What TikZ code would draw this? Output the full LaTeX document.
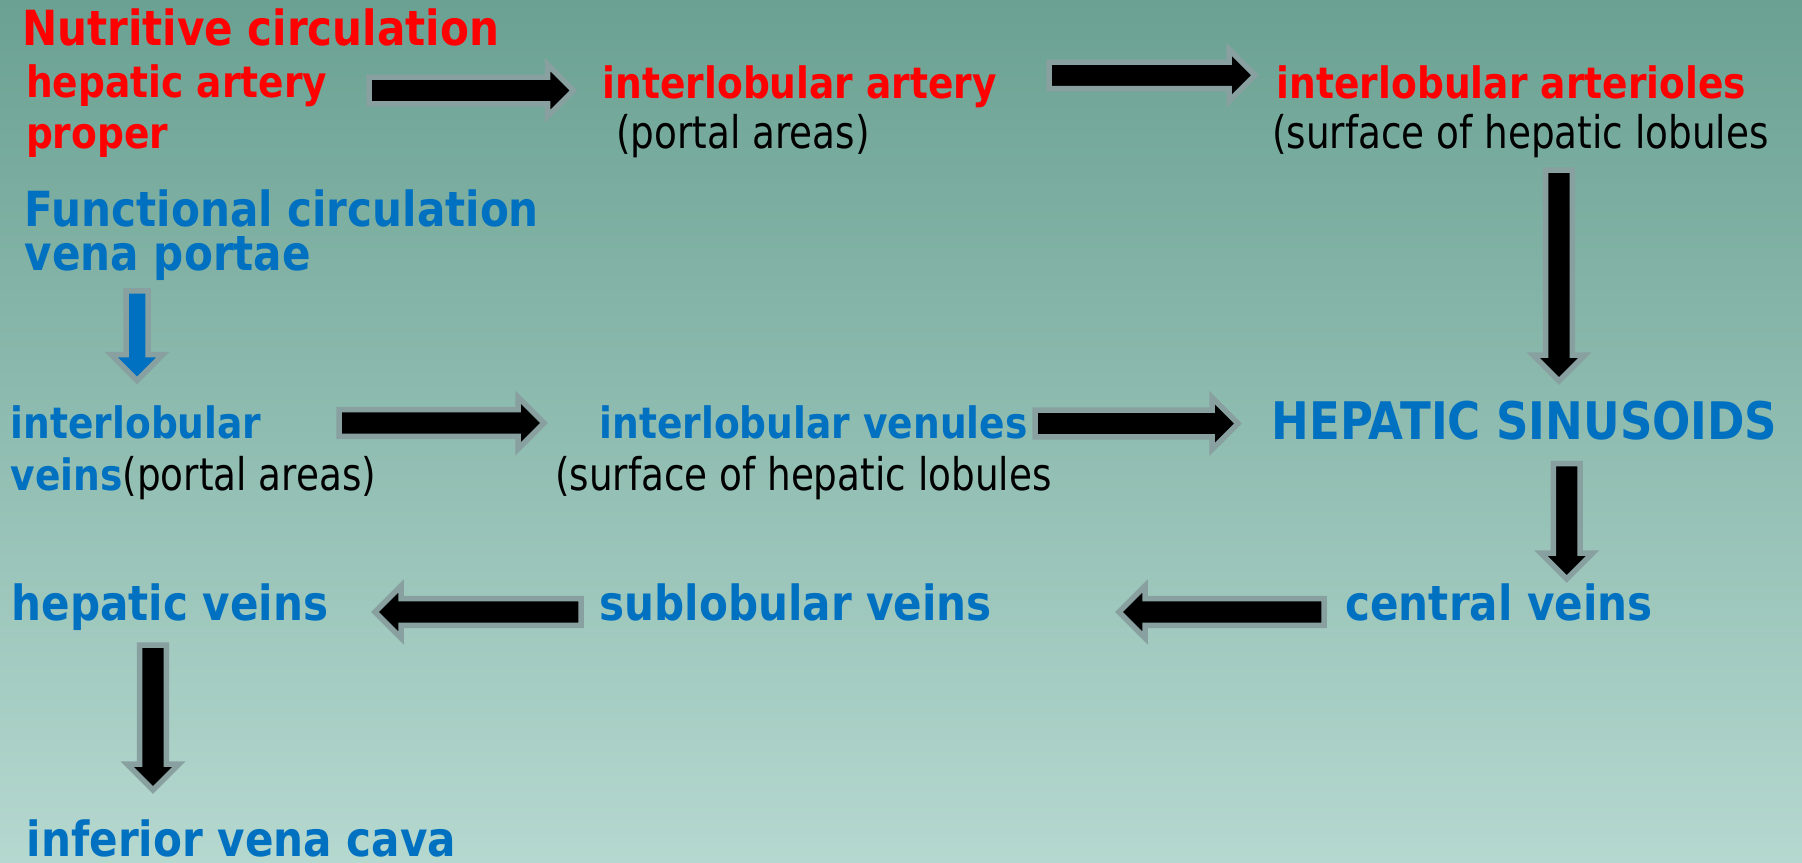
\documentclass[tikz,border=0pt]{standalone}
\usepackage{fontspec}
\newfontfamily\bfam{DejaVu Sans}[FakeStretch=0.87]
\newfontfamily\rfam{DejaVu Sans}[FakeStretch=0.83]
\definecolor{bgtop}{RGB}{106,161,146}
\definecolor{bgbot}{RGB}{181,216,207}
\definecolor{tred}{RGB}{255,0,0}
\definecolor{tblue}{RGB}{0,112,192}
\definecolor{rim}{RGB}{136,160,160}
\tikzset{
  lbl/.style={anchor=base west, inner sep=0pt, outer sep=0pt},
  smallred/.style={lbl, text=tred, font=\bfam\bfseries\fontsize{21.6}{25.3}\selectfont},
  bigred/.style={lbl, text=tred, font=\bfam\bfseries\fontsize{24.2}{25.3}\selectfont},
  smallblue/.style={lbl, text=tblue, font=\bfam\bfseries\fontsize{21.6}{25.3}\selectfont},
  bigblue/.style={lbl, text=tblue, font=\bfam\bfseries\fontsize{24.2}{25.3}\selectfont},
  note/.style={lbl, text=black, font=\rfam\fontsize{22.5}{25.3}\selectfont},
  blockarrow/.style={draw=rim, line width=2.75pt, line join=miter, miter limit=10},
}
\newcommand\blockarrow[4][black]{%
  \pgfpointanchor{#2}{center}\pgfgetlastxy\ax\ay
  \pgfpointanchor{#3}{center}\pgfgetlastxy\bx\by
  \pgfmathsetmacro\bangle{atan2(\by-\ay,\bx-\ax)}%
  \pgfmathsetmacro\blen{veclen(\bx-\ax,\by-\ay)}%
  \begin{scope}[shift={(#2)}, rotate=\bangle]
    \filldraw[blockarrow, fill=#1]
      (0pt,-#4) -- ({\blen pt-13pt},-#4) -- ({\blen pt-13pt},-13pt)
      -- (\blen pt,0pt) -- ({\blen pt-13pt},13pt) -- ({\blen pt-13pt},#4)
      -- (0pt,#4) -- cycle;
  \end{scope}
}
\begin{document}
\begin{tikzpicture}[x=0.5pt,y=-0.5pt]
\useasboundingbox (0,0) rectangle (1802,862);
\shade[top color=bgtop, bottom color=bgbot] (0,0) rectangle (1802,862);

% texts
\node[bigred]   (nut)  at (22,45.7)    {Nutritive circulation};
\node[smallred] (hap)  at (26,97.7)    {hepatic artery};
\node[smallred] (hap2) at (26,148.3)   {proper};
\node[smallred] (ila)  at (602.7,98.3) {interlobular artery};
\node[note]     (ilan) at (616,148.3)  {(portal areas)};
\node[smallred] (ilas) at (1276.8,98.3) {interlobular arterioles};
\node[note]     (ilasn) at (1272,148.3) {(surface of hepatic lobules};
\node[bigblue]  (fc)   at (24.9,226.7) {Functional circulation};
\node[bigblue]  (vp)   at (24.9,270.7) {vena portae};
\node[smallblue] (ilv) at (10.7,438.3) {interlobular};
\node[lbl]      (ilvn) at (10.7,490)   {{\bfam\bfseries\fontsize{21.6}{25.3}\selectfont\color{tblue}veins}{\rfam\fontsize{22.5}{25.3}\selectfont(portal areas)}};
\node[smallblue] (ilvu) at (599.5,438.3) {interlobular venules};
\node[note]     (ilvun) at (555,490.7) {(surface of hepatic lobules};
\node[lbl, text=tblue, font=\bfam\bfseries\fontsize{25.9}{25.3}\selectfont] (hs) at (1271.5,439.3) {HEPATIC SINUSOIDS};
\node[bigblue]  (hv)   at (11.5,620)   {hepatic veins};
\node[bigblue]  (sv)   at (599.5,620.7) {sublobular veins};
\node[bigblue]  (cv)   at (1345.4,620.7) {central veins};
\node[bigblue]  (ivc)  at (26.8,856)   {inferior vena cava};

% arrow end points
\coordinate (a1s) at (369,90.5);    \coordinate (a1e) at (573.5,90.5);
\coordinate (a2s) at (1049,75.3);   \coordinate (a2e) at (1255,75.3);
\coordinate (a3s) at (1559,170);    \coordinate (a3e) at (1559,381);
\coordinate (abs) at (137,290.8);   \coordinate (abe) at (137,380.6);
\coordinate (a4s) at (339,423);     \coordinate (a4e) at (544,423);
\coordinate (a5s) at (1035,423.5);  \coordinate (a5e) at (1238,423.5);
\coordinate (a6s) at (1566.7,463.5); \coordinate (a6e) at (1566.7,579);
\coordinate (a7s) at (581,612);     \coordinate (a7e) at (375,612);
\coordinate (a8s) at (1324,612);    \coordinate (a8e) at (1119,612);
\coordinate (a9s) at (153,645);     \coordinate (a9e) at (153,790);

\blockarrow{a1s}{a1e}{6.65pt}
\blockarrow{a2s}{a2e}{6.65pt}
\blockarrow{a3s}{a3e}{6.65pt}
\blockarrow[tblue]{abs}{abe}{5.5pt}
\blockarrow{a4s}{a4e}{6.65pt}
\blockarrow{a5s}{a5e}{6.65pt}
\blockarrow{a6s}{a6e}{6.65pt}
\blockarrow{a7s}{a7e}{6.65pt}
\blockarrow{a8s}{a8e}{6.65pt}
\blockarrow{a9s}{a9e}{6.65pt}
\end{tikzpicture}
\end{document}
